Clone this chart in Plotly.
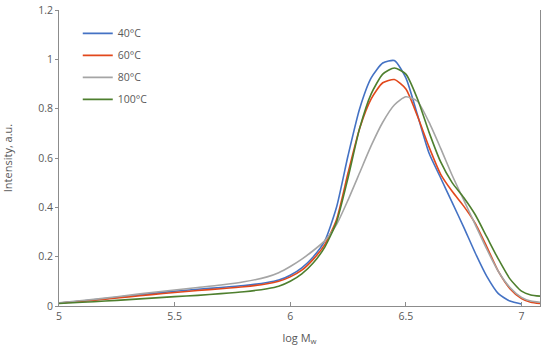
import plotly.graph_objects as go

log_mw = [5.0, 5.1, 5.2, 5.3, 5.4, 5.5, 5.6, 5.7, 5.8, 5.9, 5.95, 6.0, 6.05, 6.1, 6.15,
          6.2, 6.25, 6.3, 6.35, 6.4, 6.45, 6.5, 6.55, 6.6, 6.65, 6.7, 6.75, 6.8, 6.85,
          6.9, 6.95, 7.0, 7.04, 7.08]

i_40 = [0.012, 0.02, 0.03, 0.04, 0.05, 0.06, 0.068, 0.075, 0.083, 0.095, 0.105, 0.125,
        0.155, 0.2, 0.265, 0.40, 0.61, 0.80, 0.925, 0.985, 0.995, 0.925, 0.775, 0.62, 0.52,
        0.42, 0.32, 0.215, 0.12, 0.05, 0.02, 0.008, None, None]
i_60 = [0.012, 0.019, 0.028, 0.037, 0.046, 0.055, 0.063, 0.07, 0.078, 0.09, 0.1, 0.118,
        0.145, 0.19, 0.25, 0.35, 0.54, 0.72, 0.84, 0.905, 0.918, 0.88, 0.77, 0.645, 0.535,
        0.465, 0.405, 0.335, 0.24, 0.14, 0.07, 0.03, 0.015, 0.01]
i_80 = [0.013, 0.022, 0.032, 0.043, 0.055, 0.065, 0.075, 0.085, 0.098, 0.118, 0.135, 0.16,
        0.19, 0.225, 0.265, 0.33, 0.43, 0.54, 0.65, 0.745, 0.815, 0.848, 0.83, 0.745, 0.64,
        0.53, 0.43, 0.33, 0.23, 0.14, 0.075, 0.035, 0.02, 0.015]
i_100 = [0.01, 0.015, 0.02, 0.026, 0.032, 0.038, 0.043, 0.05, 0.058, 0.07, 0.08, 0.1,
         0.13, 0.175, 0.24, 0.34, 0.52, 0.72, 0.86, 0.94, 0.965, 0.94, 0.84, 0.705, 0.585,
         0.5, 0.44, 0.37, 0.28, 0.19, 0.11, 0.06, 0.045, 0.04]

series = [("40°C", i_40, "#4472C4"), ("60°C", i_60, "#E2481C"),
          ("80°C", i_80, "#A5A5A5"), ("100°C", i_100, "#4E7F2E")]

x_ticks = [5, 5.5, 6, 6.5, 7]
x_tick_text = ["5", "5.5", "6", "6.5", "7"]
y_ticks = [0, 0.2, 0.4, 0.6, 0.8, 1, 1.2]
y_tick_text = ["0", "0.2", "0.4", "0.6", "0.8", "1", "1.2"]

fig = go.Figure()
for name, vals, col in series:
    fig.add_trace(go.Scatter(x=log_mw, y=vals, name=name, mode="lines",
                             legendgroup=name,
                             line=dict(color=col, width=1.6, shape="spline", smoothing=0.6)))

axis_col = "#8C8C8C"
fig.update_layout(
    width=550, height=348,
    margin=dict(l=59, r=10, t=10, b=42, autoexpand=False),
    paper_bgcolor="white", plot_bgcolor="white",
    font=dict(family="Open Sans", size=10.5, color="#595959"),
    showlegend=True,
    legend=dict(x=0.039, y=0.97, xanchor="left", yanchor="top",
                bgcolor="rgba(0,0,0,0)", tracegroupgap=3,
                font=dict(size=10.5, color="#595959")),
    xaxis=dict(range=[5, 7.08], tickvals=x_ticks, ticktext=x_tick_text,
               showgrid=False, zeroline=False, showline=True, linecolor=axis_col,
               linewidth=1, ticks="inside", ticklen=4, tickcolor=axis_col,
               automargin=False,
               title=dict(text="log M<sub>w</sub>", standoff=12, font=dict(size=11))),
    yaxis=dict(range=[0, 1.2], tickvals=y_ticks, ticktext=y_tick_text,
               showgrid=False, zeroline=False, showline=True, linecolor=axis_col,
               linewidth=1, ticks="outside", ticklen=3, tickcolor=axis_col,
               automargin=False,
               title=dict(text="Intensity, a.u.", standoff=24, font=dict(size=11))),
    yaxis2=dict(range=[0, 1.2], overlaying="y", side="right", showline=True,
                linecolor=axis_col, linewidth=1.2, showticklabels=False, ticks="",
                showgrid=False, zeroline=False, automargin=False),
)
# invisible trace to activate the right-hand frame axis
fig.add_trace(go.Scatter(x=[5], y=[0], yaxis="y2", mode="lines", showlegend=False,
                         hoverinfo="skip", line=dict(width=0)))

fig.write_html("out.html", config={"displayModeBar": False},
               post_script="document.body.style.margin='0';")
